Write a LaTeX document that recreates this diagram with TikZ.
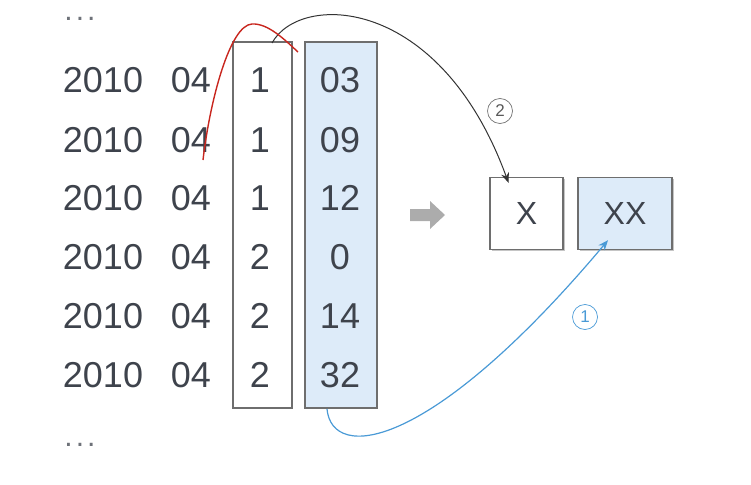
\documentclass[tikz,border=0pt]{standalone}
\usepackage{fontspec}
\setmainfont{Liberation Sans}
\usetikzlibrary{arrows.meta,shadows}
\definecolor{txt}{HTML}{3E434C}
\definecolor{boxline}{HTML}{6E6E6E}
\definecolor{lblue}{HTML}{DDEBF9}
\definecolor{arrblue}{HTML}{4A9AD6}
\definecolor{redc}{HTML}{C8261E}
\tikzset{
  num/.style={font=\fontsize{36}{36}\selectfont, text=txt, anchor=center, inner sep=0pt},
  dots/.style={font=\fontsize{30}{30}\selectfont, text=txt!75, anchor=base, inner sep=0pt, text height=4pt, text depth=0pt},
  colbox/.style={draw=boxline, line width=1.4pt},
  resbox/.style={draw=boxline, line width=1.4pt, minimum height=72pt,
     font=\fontsize{32}{32}\selectfont, text=txt,
     drop shadow={shadow xshift=1.5pt, shadow yshift=-1.5pt, fill=black!45}},
  circ/.style={circle, draw, line width=0.7pt, inner sep=0pt, minimum size=25pt, font=\fontsize{17}{17}\selectfont}
}
\begin{document}
\begin{tikzpicture}[x=1pt,y=-1pt]
\useasboundingbox (0,0) rectangle (751,484);
% column boxes
\node[colbox, fill=white, minimum width=59pt, minimum height=366pt, inner sep=0pt] (c1) at (262.5,225) {};
\node[colbox, fill=lblue, minimum width=72pt, minimum height=366pt, inner sep=0pt] (c2) at (341,225) {};
% dots
\node[dots] (d1) at (80,21) {.\hspace{3pt}.\hspace{3pt}.};
\node[dots] (d2) at (80,446) {.\hspace{3pt}.\hspace{3pt}.};
% rows
\foreach \y/\a/\b [count=\i] in {80/1/03,140/1/09,198/1/12,257/2/0,316/2/14,375/2/32}{
  \node[num] (y\i) at (103,\y) {2010};
  \node[num] (m\i) at (191,\y) {04};
  \node[num] (h\i) at (260,\y) {\a};
  \node[num] (n\i) at (340,\y) {\b};
}
% gray arrow
\fill[gray!65] (410,209) -- (430,209) -- (430,201) -- (445,215) -- (430,229) -- (430,221) -- (410,221) -- cycle;
% result boxes
\node[resbox, fill=white, minimum width=73pt] (X) at (526.5,213.5) {X};
\node[resbox, fill=lblue, minimum width=94pt] (XX) at (625,213.5) {XX};
% black arc
\coordinate (s2) at (272,43);
\draw[line width=1pt, black!80, -{Stealth[length=10pt,width=8pt]}] (s2) .. controls (300,-8) and (440,-5) .. ([xshift=-18pt,yshift=-6pt]X.north);
\node[circ, draw=black!55, text=black!65] (l2) at (500,111) {2};
% blue curve
\coordinate (s1) at (327,409);
\draw[line width=1.2pt, arrblue, -{Stealth[length=10pt,width=8pt]}] (s1) .. controls (332,462) and (430,452) .. ([xshift=-17pt,yshift=10pt]XX.south);
\node[circ, draw=arrblue, text=arrblue] (l1) at (585,317) {1};
% red curve
\coordinate (r0) at (203,160);
\coordinate (r1) at (298,52);
\draw[line width=1.4pt, redc] (r0) .. controls (210,100) and (230,25) .. (252,24) .. controls (268,23) and (285,40) .. (r1);
\end{tikzpicture}
\end{document}
